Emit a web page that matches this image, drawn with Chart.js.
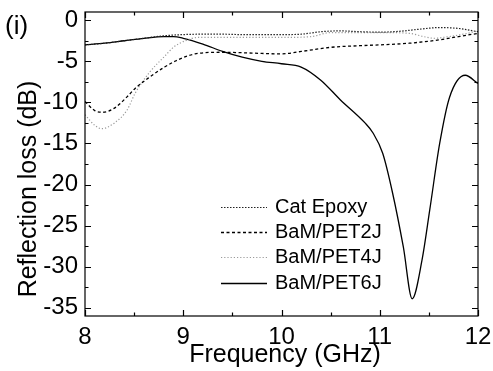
<!DOCTYPE html>
<html>
<head>
<meta charset="utf-8">
<script src="https://cdn.jsdelivr.net/npm/chart.js@4.4.1/dist/chart.umd.min.js"></script>
<style>
  html, body { margin: 0; padding: 0; background: #fff; }
</style>
</head>
<body>
<canvas id="rlChart" width="493" height="371"></canvas>
<script>
// Values (frequency in GHz, reflection loss in dB)
const catFreq = [8.0, 8.2, 8.4, 8.6, 8.8, 9.0, 9.2, 9.4, 9.6, 9.8, 10.0, 10.2, 10.4, 10.6, 10.8, 11.0, 11.2, 11.4, 11.6, 11.8, 12.0];
const catRL   = [-3.0, -2.8, -2.5, -2.2, -1.9, -1.75, -1.7, -1.7, -1.75, -1.75, -1.75, -1.7, -1.4, -1.3, -1.4, -1.45, -1.35, -1.1, -0.9, -1.0, -1.4];

const pet2Freq = [8.0, 8.1, 8.18, 8.3, 8.43, 8.51, 8.66, 8.81, 8.95, 9.12, 9.4, 9.7, 10.0, 10.2, 10.5, 10.8, 11.0, 11.3, 11.6, 11.8, 12.0];
const pet2RL   = [-9.9, -11.0, -11.2, -10.7, -9.3, -8.3, -6.9, -5.7, -4.8, -4.1, -3.9, -4.0, -4.1, -3.8, -3.3, -3.1, -3.0, -2.8, -2.4, -2.0, -1.6];

const pet4Freq = [8.0, 8.1, 8.17, 8.3, 8.43, 8.51, 8.66, 8.81, 8.9, 9.02, 9.15, 9.4, 9.7, 10.0, 10.3, 10.5, 10.7, 11.0, 11.3, 11.45, 11.55, 11.7, 11.85, 12.0];
const pet4RL   = [-11.5, -12.8, -13.2, -12.5, -10.9, -8.9, -6.3, -4.4, -3.3, -2.5, -2.1, -2.1, -2.1, -2.1, -2.0, -1.5, -1.5, -1.5, -1.6, -2.0, -2.2, -2.0, -1.7, -1.3];

const pet6Freq = [8.0, 8.2, 8.4, 8.6, 8.8, 8.9, 9.0, 9.2, 9.4, 9.6, 9.8, 10.0, 10.2, 10.4, 10.6, 10.85, 10.93, 11.03, 11.13, 11.24, 11.33, 11.43, 11.51, 11.61, 11.71, 11.87, 12.0];
const pet6RL   = [-3.0, -2.8, -2.5, -2.2, -2.0, -2.0, -2.2, -2.9, -3.8, -4.5, -5.0, -5.3, -5.7, -7.3, -9.7, -12.5, -13.7, -16.2, -21.0, -27.6, -33.9, -29.2, -23.0, -15.0, -9.4, -6.7, -7.7];

const seriesNames = ["Cat Epoxy", "BaM/PET2J", "BaM/PET4J", "BaM/PET6J"];
const yTickValues = [-35, -32.5, -30, -27.5, -25, -22.5, -20, -17.5, -15, -12.5, -10, -7.5, -5, -2.5, 0];

const FONT = "'Liberation Sans', Arial, sans-serif";

function toPoints(xs, ys) {
    return xs.map((x, i) => ({ x: x, y: ys[i] }));
}

// Inward ticks on all four sides, plus the box frame
const frameTicks = {
    id: "frameTicks",
    afterDraw(chart) {
        const { ctx, chartArea: a, scales: { x, y } } = chart;
        ctx.save();
        ctx.strokeStyle = "#000";
        ctx.lineWidth = 1.2;
        ctx.strokeRect(a.left, a.top, a.right - a.left, a.bottom - a.top);
        ctx.beginPath();
        x.ticks.forEach(t => {
            const px = Math.round(x.getPixelForValue(t.value)) + 0.5;
            const len = Number.isInteger(t.value) ? 6 : 3.5;
            ctx.moveTo(px, a.bottom); ctx.lineTo(px, a.bottom - len);
            ctx.moveTo(px, a.top); ctx.lineTo(px, a.top + len);
        });
        y.ticks.forEach(t => {
            const py = Math.round(y.getPixelForValue(t.value)) + 0.5;
            const len = t.value % 5 === 0 ? 6 : 3.5;
            ctx.moveTo(a.left, py); ctx.lineTo(a.left + len, py);
            ctx.moveTo(a.right, py); ctx.lineTo(a.right - len, py);
        });
        ctx.stroke();

        // axis titles and panel label
        ctx.fillStyle = "#000";
        ctx.font = "25px " + FONT;
        ctx.textAlign = "center";
        ctx.textBaseline = "middle";
        ctx.fillText("Frequency (GHz)", 285, 355);
        ctx.save();
        ctx.translate(29, 189);
        ctx.rotate(-Math.PI / 2);
        ctx.fillText("Reflection loss (dB)", 0, 0);
        ctx.restore();
        ctx.textAlign = "left";
        ctx.font = "26px " + FONT;
        ctx.fillText("(i)", 5, 27);
        ctx.restore();
    }
};

// Legend drawn inside the plot area, lower middle
const insideLegend = {
    id: "insideLegend",
    afterDraw(chart) {
        const ctx = chart.ctx;
        const rows = [207, 232, 257, 283];
        ctx.save();
        ctx.font = "20px " + FONT;
        ctx.textBaseline = "middle";
        ctx.fillStyle = "#000";
        chart.data.datasets.forEach((ds, i) => {
            ctx.strokeStyle = ds.borderColor;
            ctx.lineWidth = ds.borderWidth;
            ctx.setLineDash(ds.borderDash || []);
            ctx.beginPath();
            ctx.moveTo(221, rows[i] + 0.5);
            ctx.lineTo(267, rows[i] + 0.5);
            ctx.stroke();
            ctx.fillText(ds.label, 275, rows[i]);
        });
        ctx.restore();
    }
};

new Chart(document.getElementById("rlChart").getContext("2d"), {
    type: "line",
    data: {
        datasets: [{
            label: seriesNames[0],
            data: toPoints(catFreq, catRL),
            borderColor: "#222",
            borderWidth: 1.2,
            borderDash: [1.5, 1.5],
        }, {
            label: seriesNames[1],
            data: toPoints(pet2Freq, pet2RL),
            borderColor: "#000",
            borderWidth: 1.3,
            borderDash: [3, 2.5],
        }, {
            label: seriesNames[2],
            data: toPoints(pet4Freq, pet4RL),
            borderColor: "#9a9a9a",
            borderWidth: 1.2,
            borderDash: [1.2, 2],
        }, {
            label: seriesNames[3],
            data: toPoints(pet6Freq, pet6RL),
            borderColor: "#000",
            borderWidth: 1.3,
        }],
    },
    options: {
        responsive: false,
        animation: false,
        layout: {
            padding: { left: 0, right: 15, top: 12, bottom: 0 }
        },
        elements: {
            point: { radius: 0 },
            line: { cubicInterpolationMode: "monotone", fill: false }
        },
        plugins: {
            legend: { display: false },
            tooltip: { enabled: false }
        },
        scales: {
            x: {
                type: "linear",
                min: 8,
                max: 12,
                grid: { display: false, drawTicks: false },
                border: { display: false },
                ticks: {
                    stepSize: 0.5,
                    padding: 7,
                    maxRotation: 0,
                    autoSkip: false,
                    color: "#000",
                    font: { family: FONT, size: 24 },
                    callback: v => Number.isInteger(v) ? String(v) : ""
                },
                afterFit(scale) {
                    scale.height = 55;
                    scale.paddingLeft = 0;
                    scale.paddingRight = 0;
                }
            },
            y: {
                min: -36,
                max: 1,
                grid: { display: false, drawTicks: false },
                border: { display: false },
                afterBuildTicks(scale) {
                    scale.ticks = yTickValues.map(v => ({ value: v }));
                },
                ticks: {
                    padding: 7,
                    autoSkip: false,
                    color: "#000",
                    font: { family: FONT, size: 24 },
                    callback: v => v % 5 === 0 ? String(v) : ""
                },
                afterFit(scale) {
                    scale.width = 85;
                    scale.paddingTop = 0;
                    scale.paddingBottom = 0;
                }
            }
        }
    },
    plugins: [frameTicks, insideLegend]
});
</script>
</body>
</html>
